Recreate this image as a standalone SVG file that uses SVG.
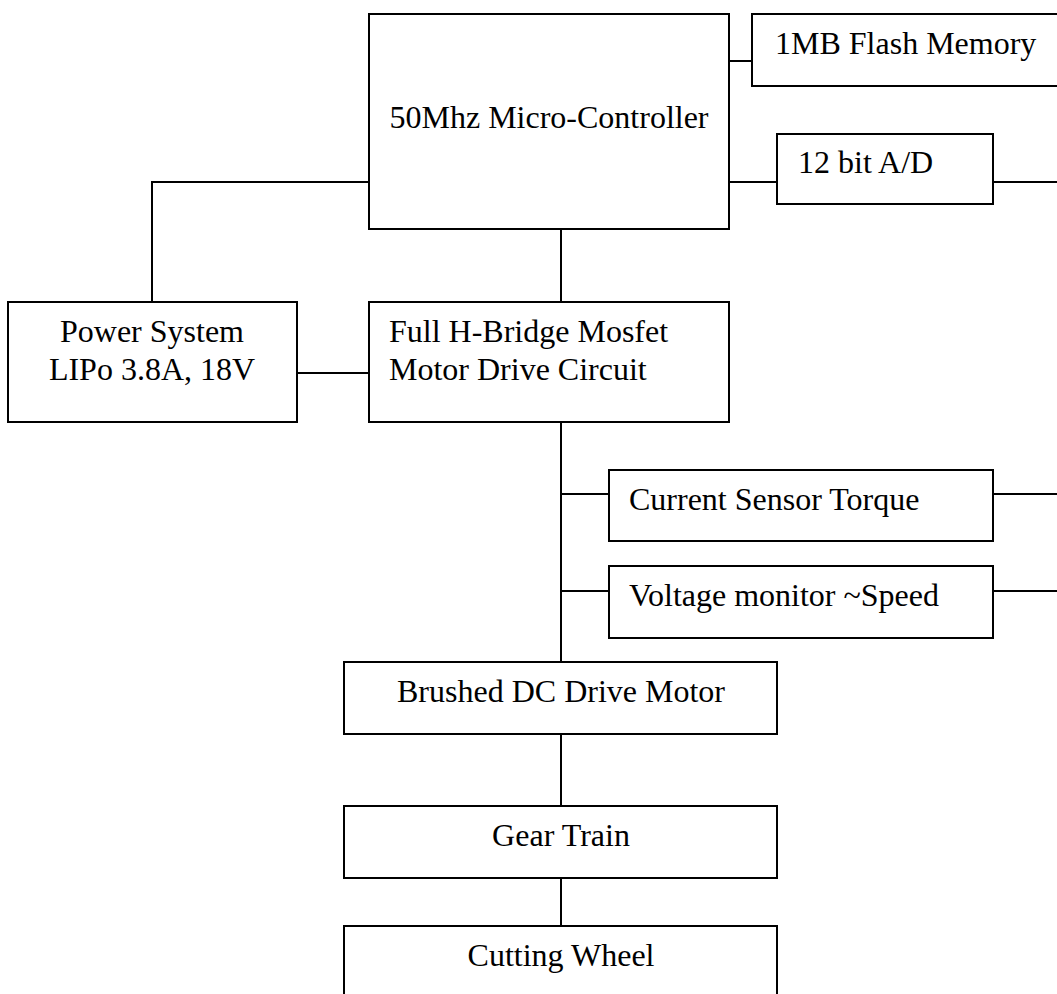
<svg xmlns="http://www.w3.org/2000/svg" width="1057" height="994" viewBox="0 0 1057 994">
<style>
.box{fill:#fff;stroke:#000;stroke-width:2}
.ln{fill:none;stroke:#000;stroke-width:2}
text{font-family:'Liberation Serif','DejaVu Serif',serif;font-size:32px;fill:#000}
.c{text-anchor:middle}
</style>
<rect width="1057" height="994" fill="#fff"/>
<g id="connectors">
<path class="ln" d="M729 61H752"/>
<path class="ln" d="M729 182H777"/>
<path class="ln" d="M993 182H1057"/>
<path class="ln" d="M369 182H152V302"/>
<path class="ln" d="M561 229V302"/>
<path class="ln" d="M297 373H369"/>
<path class="ln" d="M561 422V662"/>
<path class="ln" d="M561 494H609"/>
<path class="ln" d="M993 494H1057"/>
<path class="ln" d="M561 591H609"/>
<path class="ln" d="M993 591H1057"/>
<path class="ln" d="M561 734V806"/>
<path class="ln" d="M561 878V926"/>
</g>
<g id="micro">
<rect class="box" x="369" y="14" width="360" height="215"/>
<text class="c" x="549" y="128" font-family="Liberation Serif, serif">50Mhz Micro-Controller</text>
</g>
<g id="flash">
<rect class="box" x="752" y="14" width="320" height="72"/>
<text x="775" y="54" font-family="Liberation Serif, serif">1MB Flash Memory</text>
</g>
<g id="adc">
<rect class="box" x="777" y="134" width="216" height="70"/>
<text x="798" y="173" font-family="Liberation Serif, serif">12 bit A/D</text>
</g>
<g id="power">
<rect class="box" x="8" y="302" width="289" height="120"/>
<text class="c" x="152" y="342" font-family="Liberation Serif, serif">Power System</text>
<text class="c" x="152" y="380" font-family="Liberation Serif, serif">LIPo 3.8A, 18V</text>
</g>
<g id="hbridge">
<rect class="box" x="369" y="302" width="360" height="120"/>
<text x="389" y="342" font-family="Liberation Serif, serif">Full H-Bridge Mosfet</text>
<text x="389" y="380" font-family="Liberation Serif, serif">Motor Drive Circuit</text>
</g>
<g id="current">
<rect class="box" x="609" y="470" width="384" height="71"/>
<text x="629" y="510" font-family="Liberation Serif, serif">Current Sensor Torque</text>
</g>
<g id="voltage">
<rect class="box" x="609" y="566" width="384" height="72"/>
<text x="629" y="606" font-family="Liberation Serif, serif">Voltage monitor ~Speed</text>
</g>
<g id="motor">
<rect class="box" x="344" y="662" width="433" height="72"/>
<text class="c" x="561" y="702" font-family="Liberation Serif, serif">Brushed DC Drive Motor</text>
</g>
<g id="gear">
<rect class="box" x="344" y="806" width="433" height="72"/>
<text class="c" x="561" y="846" font-family="Liberation Serif, serif">Gear Train</text>
</g>
<g id="wheel">
<rect class="box" x="344" y="926" width="433" height="80"/>
<text class="c" x="561" y="966" font-family="Liberation Serif, serif">Cutting Wheel</text>
</g>
</svg>
